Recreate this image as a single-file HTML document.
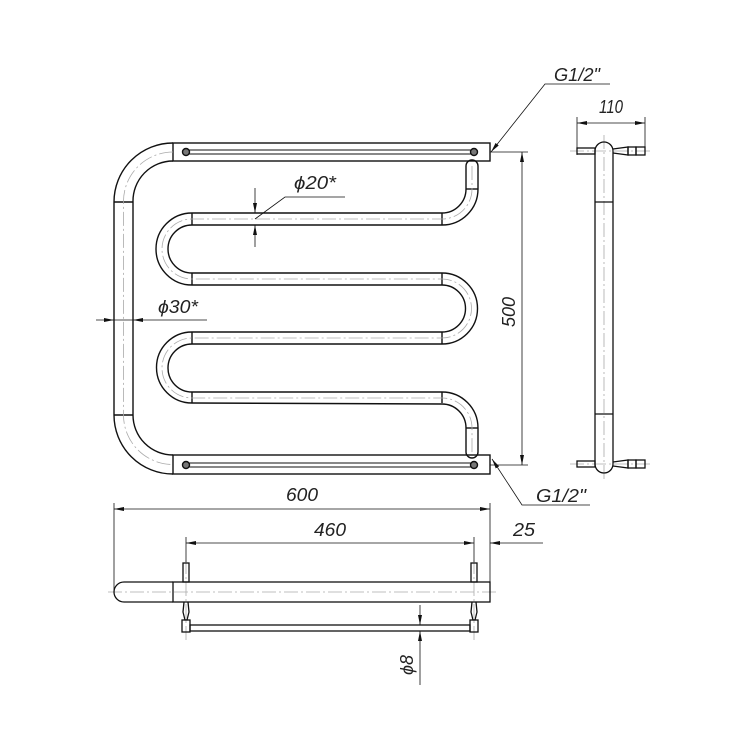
<!DOCTYPE html>
<html><head><meta charset="utf-8"><style>html,body{margin:0;padding:0;background:#fff}svg{display:block}
text{font-family:"Liberation Sans",sans-serif;font-style:italic;font-size:18px;fill:#222}</style></head><body>
<svg width="750" height="750" viewBox="0 0 750 750" xmlns="http://www.w3.org/2000/svg">
<defs>
<marker id="a" viewBox="0 0 10 6" refX="10" refY="3" markerWidth="10" markerHeight="6" markerUnits="userSpaceOnUse" orient="auto"><path d="M0,1 L10,3 L0,5z" fill="#111"/></marker>
</defs>
<g fill="none" stroke="#111" stroke-width="1.4">
<path d="M173,143 A59,59 0 0 0 114,202 L114,415 A59,59 0 0 0 173,474"/>
<path d="M173,161 A40,40 0 0 0 133,202 L133,415 A40,40 0 0 0 173,455"/>
<line x1="114" y1="202" x2="133" y2="202"/><line x1="114" y1="415" x2="133" y2="415"/>
<rect x="173" y="143" width="317" height="18"/><rect x="173" y="455" width="317" height="19"/>
<rect x="186" y="150" width="288" height="4" stroke-width="1"/><rect x="186" y="463" width="288" height="4" stroke-width="1"/>
<circle cx="186" cy="152" r="3.5" fill="#777"/><circle cx="474" cy="152" r="3.5" fill="#777"/>
<circle cx="186" cy="465" r="3.5" fill="#777"/><circle cx="474" cy="465" r="3.5" fill="#777"/>
<path d="M466,189 L466,166 A6,6 0 0 1 478,166 L478,189 A36,36 0 0 1 442,225 L192,225 A24,24 0 0 0 192,273 L442,273 A35.5,35.5 0 0 1 442,344 L192,344 A24,24 0 0 0 192,392 L442,392 A36,36 0 0 1 478,428 L478,452 A6,6 0 0 1 466,452 L466,428 A24,24 0 0 0 442,404 L192,403 A35.5,35.5 0 0 1 192,332 L442,332 A23.5,23.5 0 0 0 442,285 L192,285 A36,36 0 0 1 192,213 L442,213 A24,24 0 0 0 466,189"/>
<line x1="466" y1="189" x2="478" y2="189"/><line x1="466" y1="428" x2="478" y2="428"/>
<line x1="192" y1="213" x2="192" y2="225"/><line x1="192" y1="273" x2="192" y2="285"/><line x1="192" y1="332" x2="192" y2="344"/><line x1="192" y1="392" x2="192" y2="403"/>
<line x1="442" y1="213" x2="442" y2="225"/><line x1="442" y1="273" x2="442" y2="285"/><line x1="442" y1="332" x2="442" y2="344"/><line x1="442" y1="392" x2="442" y2="403"/>
</g>
<g fill="none" stroke="#aaa" stroke-width="0.8" stroke-dasharray="14,3,2,3">
<path d="M173,152 A49.5,49.5 0 0 0 123.5,202 L123.5,415 A49.5,49.5 0 0 0 173,464.5"/>
<path d="M472,166 L472,189 A30,30 0 0 1 442,219 L192,219 A30,30 0 0 0 192,279 L442,279 A29.5,29.5 0 0 1 442,338 L192,338 A30,30 0 0 0 192,398 L442,398 A30,30 0 0 1 472,428 L472,455"/>
<line x1="108" y1="592" x2="497" y2="592"/>
<line x1="604" y1="135" x2="604" y2="480"/>
<line x1="570" y1="151" x2="652" y2="151"/><line x1="570" y1="464" x2="652" y2="464"/>
<line x1="186" y1="560" x2="186" y2="640"/><line x1="474" y1="560" x2="474" y2="640"/>
</g>
<g fill="none" stroke="#111" stroke-width="0.8">
<line x1="490" y1="152" x2="528" y2="152"/><line x1="490" y1="465" x2="528" y2="465"/>
<line x1="522" y1="300" x2="522" y2="465" marker-end="url(#a)"/>
<line x1="522" y1="300" x2="522" y2="152" marker-end="url(#a)"/>
<polyline points="610,84 545,84 491,152" marker-end="url(#a)"/>
<polyline points="590,505 522,505 492,459" marker-end="url(#a)"/>
<line x1="255" y1="188" x2="255" y2="213" marker-end="url(#a)"/><line x1="255" y1="247" x2="255" y2="225" marker-end="url(#a)"/>
<polyline points="255,219 285,197 345,197"/>
<line x1="96" y1="320" x2="114" y2="320" marker-end="url(#a)"/>
<line x1="207" y1="320" x2="133" y2="320" marker-end="url(#a)"/><line x1="114" y1="320" x2="133" y2="320"/>
<line x1="114" y1="503" x2="114" y2="592"/><line x1="490" y1="503" x2="490" y2="585"/>
<line x1="300" y1="509" x2="114" y2="509" marker-end="url(#a)"/><line x1="300" y1="509" x2="490" y2="509" marker-end="url(#a)"/>
<line x1="186" y1="537" x2="186" y2="562"/><line x1="474" y1="537" x2="474" y2="562"/>
<line x1="330" y1="543" x2="186" y2="543" marker-end="url(#a)"/><line x1="330" y1="543" x2="474" y2="543" marker-end="url(#a)"/>
<line x1="543" y1="543" x2="490" y2="543" marker-end="url(#a)"/>
<line x1="420" y1="605" x2="420" y2="625" marker-end="url(#a)"/><line x1="420" y1="685" x2="420" y2="631" marker-end="url(#a)"/>
<line x1="577" y1="117" x2="577" y2="155"/><line x1="645" y1="117" x2="645" y2="155"/>
<line x1="611" y1="123" x2="577" y2="123" marker-end="url(#a)"/><line x1="611" y1="123" x2="645" y2="123" marker-end="url(#a)"/>
</g>
<g fill="none" stroke="#111" stroke-width="1.3">
<path d="M173,582 L124,582 A10,10 0 0 0 124,602 L173,602"/>
<rect x="173" y="582" width="317" height="20"/>
<rect x="183" y="563" width="6" height="19"/><rect x="471" y="563" width="6" height="19"/>
<path d="M184,602 L183,612 L185,620 L187,620 L189,612 L188,602"/><path d="M472,602 L471,612 L473,620 L475,620 L477,612 L476,602"/>
<rect x="182" y="620" width="8" height="12"/><rect x="470" y="620" width="8" height="12"/>
<rect x="190" y="625" width="280" height="6"/>
</g>
<g fill="none" stroke="#111" stroke-width="1.3">
<path d="M595,151 A9,9 0 0 1 613,151 L613,464 A9,9 0 0 1 595,464 Z"/>
<line x1="595" y1="202" x2="613" y2="202"/><line x1="595" y1="414" x2="613" y2="414"/>
<rect x="577" y="148" width="18" height="6"/><rect x="577" y="461" width="18" height="6"/>
<path d="M613,149 L628,147 L628,155 L613,153"/><rect x="628" y="147" width="8" height="8"/><rect x="636" y="147" width="9" height="8"/>
<path d="M613,462 L628,460 L628,468 L613,466"/><rect x="628" y="460" width="8" height="8"/><rect x="636" y="460" width="9" height="8"/>
</g>
<text x="554" y="81" textLength="46" lengthAdjust="spacingAndGlyphs">G1/2"</text>
<text x="536" y="502" textLength="50" lengthAdjust="spacingAndGlyphs">G1/2"</text>
<text x="294" y="189" textLength="42" lengthAdjust="spacingAndGlyphs">ϕ20*</text>
<text x="158" y="313" textLength="40" lengthAdjust="spacingAndGlyphs">ϕ30*</text>
<text x="286" y="501" textLength="32" lengthAdjust="spacingAndGlyphs">600</text>
<text x="314" y="536" textLength="32" lengthAdjust="spacingAndGlyphs">460</text>
<text x="513" y="536" textLength="22" lengthAdjust="spacingAndGlyphs">25</text>
<text x="599" y="113" textLength="24" lengthAdjust="spacingAndGlyphs">110</text>
<text transform="translate(515,312) rotate(-90)" text-anchor="middle">500</text>
<text transform="translate(413,665) rotate(-90)" text-anchor="middle">ϕ8</text>
</svg>
</body></html>
